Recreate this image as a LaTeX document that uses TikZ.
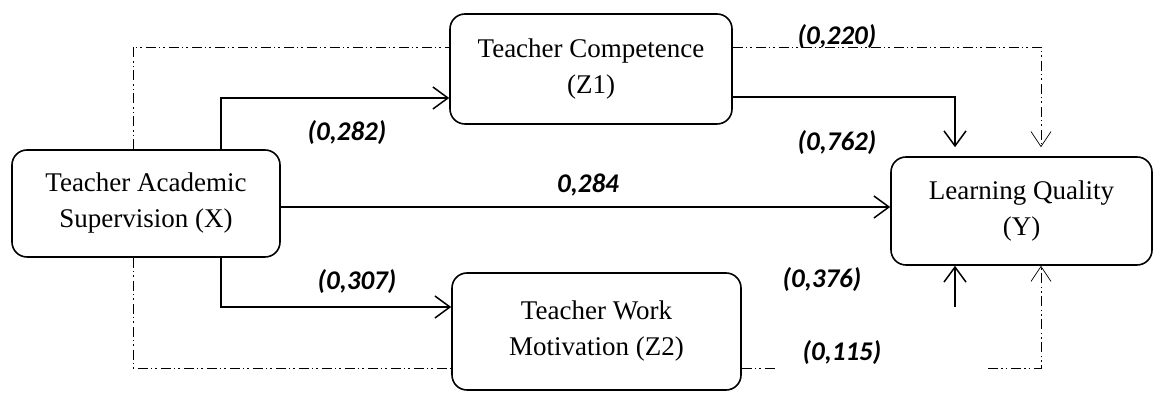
\documentclass[tikz,border=0pt]{standalone}
\usepackage{fontspec}
\setmainfont{Liberation Serif}
\newfontfamily\coeffont{Carlito}
\usetikzlibrary{arrows.meta,positioning,calc}
\tikzset{
    var/.style ={rectangle, draw, rounded corners=15pt, line width=1.6pt, align=center,
        inner sep=0pt, font=\fontsize{27}{36}\selectfont},
    path/.style = {line width=1.5pt, -{Straight Barb[length=15pt,width=22pt,line width=1.5pt]}},
    indirect/.style = {line width=0.7pt, dash pattern=on 10pt off 3pt on 1.5pt off 3pt on 1.5pt off 4pt},
    indarrow/.style = {indirect, -{Straight Barb[length=15pt,width=20pt,line width=0.7pt]}},
    coef/.style = {font=\coeffont\bfseries\itshape\fontsize{27}{30}\selectfont}
}
\begin{document}
\begin{tikzpicture}[x=1pt,y=1pt]
    \useasboundingbox (0,0) rectangle (1154,398);

    \node[var, minimum width=268pt, minimum height=107pt] (X) at (146,194.5) {Teacher Academic\\Supervision (X)};
    \node[var, minimum width=282pt, minimum height=110pt] (Z1) at (591,329) {Teacher Competence\\(Z1)};
    \node[var, minimum width=289pt, minimum height=117pt] (Z2) at (596.5,66.5) {Teacher Work\\Motivation (Z2)};
    \node[var, minimum width=261pt, minimum height=108pt] (Y) at (1021.5,187) {Learning Quality\\(Y)};

    % Direct path
    \draw[path] (X.east |- 0,191) -- (Y.west |- 0,191);

    % Paths through Z1 and Z2
    \draw[path] ([xshift=75pt]X.north) |- (Z1.west |- 0,300);
    \draw[path, shorten >=9pt] (Z1.east |- 0,301) -| (955,0 |- Y.north);
    \draw[path] ([xshift=75pt]X.south) |- (Z2.west |- 0,91);
    \coordinate (zy) at (955,91);
    \draw[path] (zy) -- (zy |- Y.south);

    % Indirect paths
    \draw[indirect] ([xshift=-13pt]X.north) |- (Z1.west |- 0,351);
    \draw[indarrow, shorten >=9pt] (Z1.east |- 0,351) -| (1041,0 |- Y.north);
    \draw[indirect] ([xshift=-13pt]X.south) |- (Z2.west |- 0,30);
    \coordinate (gapa) at (777,30);
    \coordinate (gapb) at (988,30);
    \draw[indirect] (Z2.east |- 0,30) -- (gapa);
    \draw[indarrow] (gapb) -| (1041,0 |- Y.south);

    % Coefficients
    \node[coef] (c1) at (347,265) {(0,282)};
    \node[coef] (c2) at (837,361) {(0,220)};
    \node[coef] (c3) at (837,255) {(0,762)};
    \node[coef] (c4) at (588,213) {0,284};
    \node[coef] (c5) at (357,116) {(0,307)};
    \node[coef] (c6) at (822,118) {(0,376)};
    \node[coef] (c7) at (842,45) {(0,115)};

\end{tikzpicture}
\end{document}
